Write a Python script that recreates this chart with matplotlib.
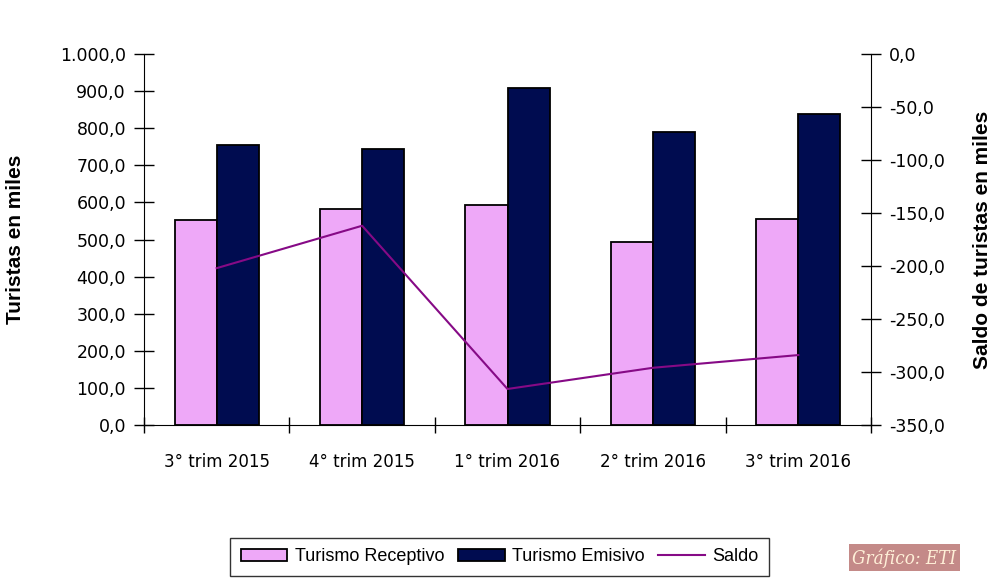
import matplotlib.pyplot as plt
import numpy as np
from matplotlib.ticker import FuncFormatter

# datos (miles de turistas)
trimestres = ["3° trim 2015", "4° trim 2015", "1° trim 2016", "2° trim 2016", "3° trim 2016"]
receptivo = [553, 583, 592, 494, 554]
emisivo = [755, 745, 908, 790, 838]
saldo = [-202, -162, -316, -296, -284]

c_rec = "#EEA8F8"
c_emi = "#000C50"
c_saldo = "#860A86"


def fmt(v, pos):
    s = f"{v:,.1f}"
    return s.replace(",", "X").replace(".", ",").replace("X", ".")


fig = plt.figure(figsize=(10, 5.86), dpi=100)
ax = fig.add_axes([0.144, 0.2747, 0.727, 0.6331])
ax2 = ax.twinx()

x = np.arange(len(trimestres))
w = 0.29
ax.bar(x - w / 2, receptivo, w, color=c_rec, edgecolor="black", linewidth=1.3,
       label="Turismo Receptivo", zorder=2)
ax.bar(x + w / 2, emisivo, w, color=c_emi, edgecolor="black", linewidth=1.3,
       label="Turismo Emisivo", zorder=2)
ax2.plot(x, saldo, color=c_saldo, linewidth=1.5, label="Saldo")

ax.set_xlim(-0.5, len(trimestres) - 0.5)
ax.set_ylim(0, 1000)
ax.set_yticks(np.arange(0, 1001, 100))
ax2.set_ylim(-350, 0)
ax2.set_yticks(np.arange(-350, 1, 50))
ax.yaxis.set_major_formatter(FuncFormatter(fmt))
ax2.yaxis.set_major_formatter(FuncFormatter(fmt))

ax.set_xticks(np.arange(len(trimestres) + 1) - 0.5)
ax.set_xticklabels([])
ax.set_xticks(x, minor=True)
ax.set_xticklabels(trimestres, minor=True)
ax.tick_params(axis="x", which="major", direction="inout", length=12, width=1)
ax.tick_params(axis="x", which="minor", length=0, pad=20, labelsize=12)
ax.tick_params(axis="y", direction="inout", length=14, width=1, labelsize=12.5, pad=6)
ax2.tick_params(axis="y", direction="inout", length=14, width=1, labelsize=12.5, pad=6)

for a in (ax, ax2):
    a.spines["top"].set_visible(False)
ax.spines["right"].set_visible(False)
ax2.spines["left"].set_visible(False)
ax2.spines["bottom"].set_visible(False)

ax.set_ylabel("Turistas en miles", fontsize=15, fontweight="bold",
              family="Liberation Sans")
ax2.set_ylabel("Saldo de turistas en miles", fontsize=15, fontweight="bold",
               family="Liberation Sans")
ax.yaxis.set_label_coords(-0.163, 0.5)
ax2.yaxis.set_label_coords(1.140, 0.5)

h1, l1 = ax.get_legend_handles_labels()
h2, l2 = ax2.get_legend_handles_labels()
leg = fig.legend(h1 + h2, l1 + l2, loc="center", bbox_to_anchor=(0.4995, 0.0495),
                 ncol=3, frameon=True, fancybox=False, edgecolor="black",
                 prop={"family": "Liberation Sans", "size": 13},
                 handlelength=2.6, handletextpad=0.4, columnspacing=0.75,
                 borderpad=0.6)
leg.get_frame().set_linewidth(1.0)

fig.text(0.9045, 0.0478, "Gráfico: ETI", ha="center", va="center",
         family="DejaVu Serif", stretch="condensed", style="italic",
         fontsize=13.5, color="#FFF0D8",
         bbox=dict(boxstyle="square,pad=0.2", facecolor="#C48A88", edgecolor="none"))

fig.savefig("out.png", dpi=100)
